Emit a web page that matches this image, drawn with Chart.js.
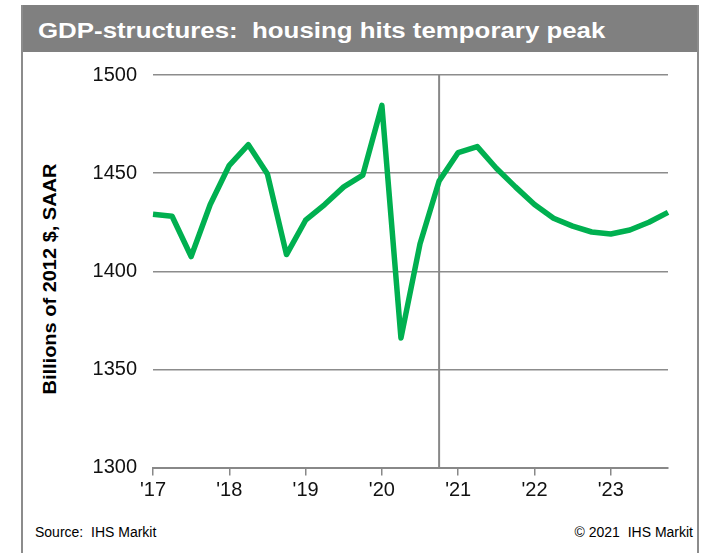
<!DOCTYPE html>
<html>
<head>
<meta charset="utf-8">
<script src="https://cdn.jsdelivr.net/npm/chart.js@4.4.1/dist/chart.umd.min.js"></script>
<style>
  html, body { margin:0; padding:0; background:#fff; }
  body { width:711px; height:553px; position:relative; overflow:hidden; font-family:"Liberation Sans", Arial, sans-serif; }
  #bar { position:absolute; left:21px; top:5px; width:678px; height:47px; background:#808080; }
  #title { position:absolute; left:38px; top:19.5px; font-size:22px; line-height:22px; font-weight:bold; color:#fff; white-space:nowrap; transform-origin:0 0; transform:scaleX(1.175); }
  .vline { position:absolute; top:5px; width:2px; height:548px; background:#8c8c8c; }
  #ytitle { position:absolute; left:50px; top:279px; transform:translate(-50%,-50%) rotate(-90deg) scaleX(1.11); font-size:18px; font-weight:bold; color:#000; white-space:nowrap; }
  .foot { position:absolute; top:524px; font-size:14px; line-height:16px; color:#000; white-space:nowrap; }
  #src { left:35px; }
  #copy { right:18px; }
  canvas { position:absolute; left:0; top:0; }
</style>
</head>
<body>
<div id="bar"></div>
<div class="vline" style="left:21px"></div>
<div class="vline" style="left:697px"></div>
<div id="title">GDP-structures:&nbsp; housing hits temporary peak</div>
<div id="ytitle">Billions of 2012 $, SAAR</div>
<div class="foot" id="src">Source:&nbsp; IHS Markit</div>
<div class="foot" id="copy">© 2021&nbsp; IHS Markit</div>
<canvas id="c" width="711" height="553"></canvas>
<script>
const quarters = ["2017Q1","2017Q2","2017Q3","2017Q4","2018Q1","2018Q2","2018Q3","2018Q4",
  "2019Q1","2019Q2","2019Q3","2019Q4","2020Q1","2020Q2","2020Q3","2020Q4",
  "2021Q1","2021Q2","2021Q3","2021Q4","2022Q1","2022Q2","2022Q3","2022Q4",
  "2023Q1","2023Q2","2023Q3","2023Q4"];
const housing = [1429, 1428, 1407.5, 1434, 1454, 1464.5, 1449.5, 1408.5,
  1426, 1434, 1443, 1449, 1484.5, 1366, 1414, 1446,
  1460.5, 1463.5, 1452.5, 1443, 1434, 1427, 1423, 1420,
  1419, 1421, 1425, 1430];
const yearLabels = ["'17","'18","'19","'20","'21","'22","'23"];
const yTicks = [1300, 1350, 1400, 1450, 1500];
const markerQuarter = "2020Q4";

const FONT = "'Liberation Sans', Arial, sans-serif";

const markerLine = {
  id: 'markerLine',
  beforeDatasetsDraw(chart) {
    const x = chart.scales.x.getPixelForValue(quarters.indexOf(markerQuarter));
    const ctx = chart.ctx, a = chart.chartArea;
    ctx.save();
    ctx.strokeStyle = '#888888';
    ctx.lineWidth = 2;
    ctx.beginPath();
    ctx.moveTo(x, a.top);
    ctx.lineTo(x, a.bottom);
    ctx.stroke();
    ctx.restore();
  }
};

new Chart(document.getElementById('c'), {
  type: 'line',
  data: {
    labels: quarters,
    datasets: [{
      data: housing,
      borderColor: '#00b050',
      borderWidth: 5.5,
      borderJoinStyle: 'round',
      borderCapStyle: 'butt',
      pointRadius: 0,
      tension: 0,
      fill: false
    }]
  },
  options: {
    responsive: false,
    animation: false,
    devicePixelRatio: 1,
    layout: { padding: { left: 0, top: 75, right: 43, bottom: 45.5 } },
    plugins: { legend: { display: false }, tooltip: { enabled: false } },
    scales: {
      x: {
        type: 'category',
        offset: false,
        afterFit(s) { s.height = 40; },
        grid: {
          drawOnChartArea: false,
          drawTicks: true,
          tickLength: 8,
          lineWidth: 1.5,
          color: (ctx) => (ctx.index % 4 === 0 ? '#888888' : 'rgba(0,0,0,0)')
        },
        border: { display: true, color: '#888888', width: 2 },
        ticks: {
          autoSkip: false,
          maxRotation: 0,
          padding: 3,
          color: '#111',
          font: { family: FONT, size: 20 },
          callback: (v, i) => (i % 4 === 0 ? yearLabels[i / 4] : '')
        }
      },
      y: {
        min: 1300,
        max: 1500,
        afterFit(s) { s.width = 153; },
        afterBuildTicks(s) { s.ticks = yTicks.map(v => ({ value: v })); },
        grid: { drawTicks: false, color: '#8c8c8c', lineWidth: 1.5 },
        border: { display: false },
        ticks: {
          padding: 16,
          color: '#111',
          font: { family: FONT, size: 20 },
          callback: (v) => String(v)
        }
      }
    }
  },
  plugins: [markerLine]
});
</script>
</body>
</html>
